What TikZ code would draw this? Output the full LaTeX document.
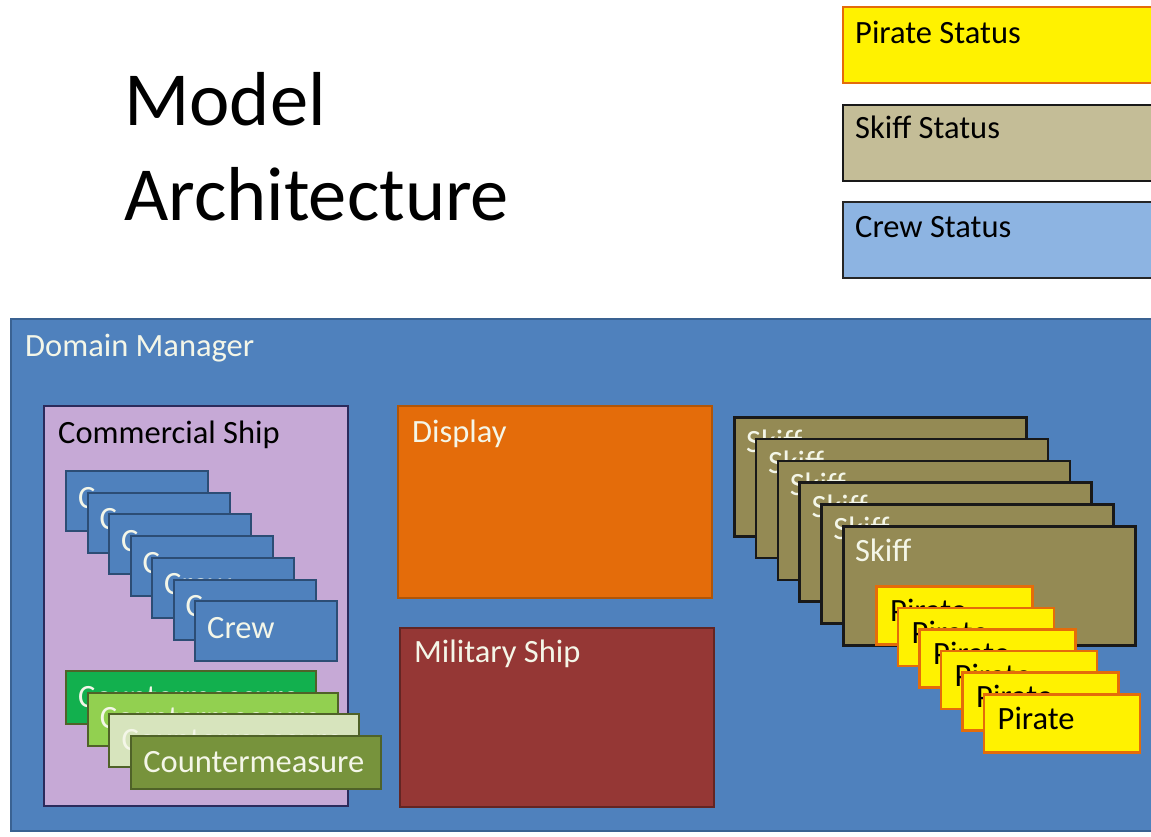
\documentclass[tikz,border=0pt]{standalone}
\usepackage{fontspec}
\setmainfont{Carlito}
\usepackage{xcolor}
\usetikzlibrary{positioning}
\definecolor{dmblue}{HTML}{4F81BD}
\definecolor{dmline}{HTML}{3A6292}
\definecolor{lav}{HTML}{C6A9D6}
\definecolor{lavline}{HTML}{2B2B5C}
\definecolor{crewline}{HTML}{2C4D75}
\definecolor{cmA}{HTML}{12B04E}
\definecolor{cmB}{HTML}{92D050}
\definecolor{cmC}{HTML}{D7E4BD}
\definecolor{cmD}{HTML}{77933C}
\definecolor{cmline}{HTML}{4F6228}
\definecolor{disp}{HTML}{E46C0A}
\definecolor{displine}{HTML}{B05508}
\definecolor{mil}{HTML}{953735}
\definecolor{milline}{HTML}{632523}
\definecolor{skiff}{HTML}{948A54}
\definecolor{skiffst}{HTML}{C4BD97}
\definecolor{crewst}{HTML}{8DB4E2}
\definecolor{whitish}{HTML}{F4F6E8}
\tikzset{
    box/.style = {rectangle, anchor=north west, inner sep=0pt, line width=2pt},
    lbl/.style = {anchor=base west, inner sep=0pt, font=\fontsize{32.5}{38}\selectfont},
    titletext/.style = {anchor=base west, inner sep=0pt, font=\fontsize{76.5}{92}\selectfont},
}

\begin{document}
\begin{tikzpicture}[x=1pt,y=-1pt]
\tikzset{
    dmbox/.style = {box, fill=dmblue, draw=dmline, minimum width=1160pt, minimum height=512pt},
    shipbox/.style = {box, fill=lav, draw=lavline, minimum width=304pt, minimum height=400pt},
    crewbox/.style = {box, fill=dmblue, draw=crewline, minimum width=142pt, minimum height=60pt},
    cmbox/.style = {box, draw=cmline, minimum width=250pt, minimum height=53pt},
    dispbox/.style = {box, fill=disp, draw=displine, minimum width=314pt, minimum height=192pt},
    milbox/.style = {box, fill=mil, draw=milline, minimum width=314pt, minimum height=179pt},
    skiffbox/.style = {box, fill=skiff, draw=black!90, line width=2.5pt, minimum width=292pt, minimum height=119pt},
    piratebox/.style = {box, fill=yellow, draw=disp, line width=2.5pt, minimum width=156pt, minimum height=58pt},
    statbox/.style = {box, minimum width=330pt, minimum height=76pt},
}
\useasboundingbox[fill=white] (0,0) rectangle (1151,836);
% title
\node[titletext] (title1) at (124,125) {Model};
\node[titletext] (title2) at (124,220) {Architecture};
% status legend
\node[statbox, fill=yellow, draw=disp] (pstat) at (842,6) {};
\node[lbl] at ([shift={(13,37)}]pstat.north west) {Pirate Status};
\node[statbox, fill=skiffst, draw=black!90] (sstat) at (842,104) {};
\node[lbl] at ([shift={(13,34)}]sstat.north west) {Skiff Status};
\node[statbox, fill=crewst, draw=black!85] (cstat) at (842,201) {};
\node[lbl] at ([shift={(13,36)}]cstat.north west) {Crew Status};
% domain manager
\node[dmbox] (dm) at (10,318) {};
\node[lbl, whitish] at ([shift={(15,38)}]dm.north west) {Domain Manager};
% commercial ship
\node[shipbox] (ship) at (43,405) {};
\node[lbl] at ([shift={(15,38)}]ship.north west) {Commercial Ship};
\foreach \i in {0,...,6} {
    \node[crewbox] (crew\i) at ({65+21.5*\i},{470+21.7*\i}) {};
    \node[lbl, whitish] at ([shift={(13,38)}]crew\i.north west) {Crew};
}
\foreach \i/\c in {0/cmA,1/cmB,2/cmC,3/cmD} {
    \node[cmbox, fill=\c] (cm\i) at ({65+21.7*\i},{670+21.7*\i}) {};
    \node[lbl, whitish] at ([shift={(13,37)}]cm\i.north west) {Countermeasure};
}
% display and military ship
\node[dispbox] (disp) at (397,405) {};
\node[lbl, whitish] at ([shift={(15,37)}]disp.north west) {Display};
\node[milbox] (mil) at (399,627) {};
\node[lbl, whitish] at ([shift={(15,35)}]mil.north west) {Military Ship};
% skiffs and pirates
\foreach \i in {0,...,5} {
    \node[skiffbox] (skiff\i) at ({733+21.8*\i},{416+21.8*\i}) {};
    \node[lbl, whitish] at ([shift={(13,36)}]skiff\i.north west) {Skiff};
}
\foreach \i in {0,...,5} {
    \node[piratebox] (pirate\i) at ({875+21.5*\i},{585+21.6*\i}) {};
    \node[lbl] at ([shift={(15,36.5)}]pirate\i.north west) {Pirate};
}
\end{tikzpicture}
\end{document}
